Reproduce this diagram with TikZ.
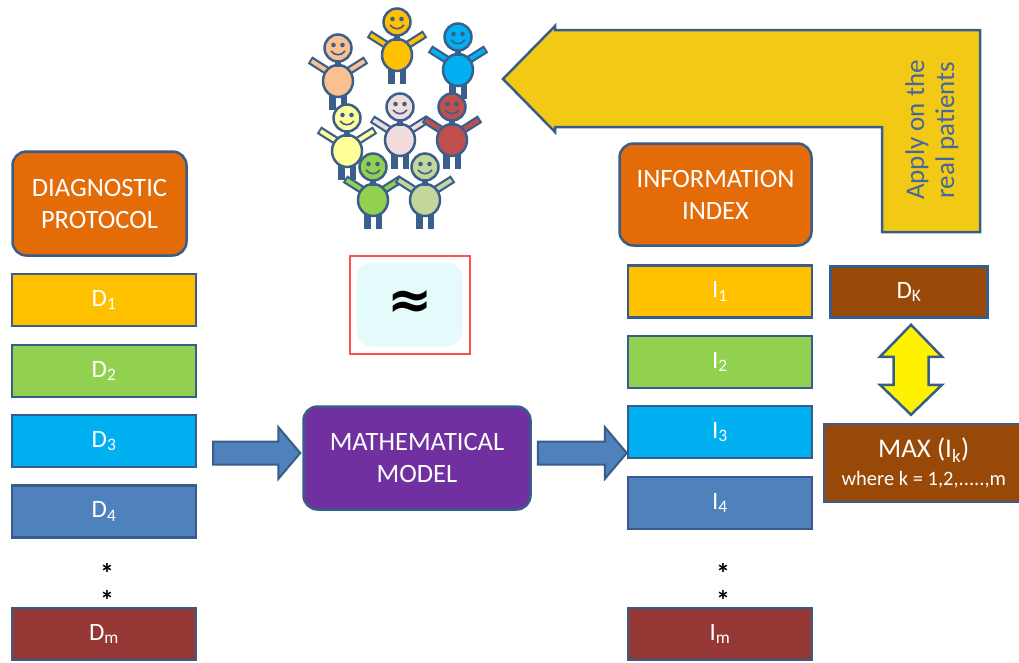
\documentclass[tikz,border=0pt]{standalone}
\usepackage{fontspec}
\setmainfont{Carlito}
\newfontfamily\symfont{DejaVu Sans}
\usetikzlibrary{calc}

\definecolor{bord}{RGB}{56,93,138}
\definecolor{orng}{RGB}{227,108,9}
\definecolor{cyel}{RGB}{255,192,0}
\definecolor{cgrn}{RGB}{146,208,80}
\definecolor{ccyn}{RGB}{0,176,240}
\definecolor{cblu}{RGB}{79,129,189}
\definecolor{cred}{RGB}{149,55,53}
\definecolor{cpur}{RGB}{112,48,160}
\definecolor{cbrn}{RGB}{152,72,7}
\definecolor{gold}{RGB}{242,202,22}
\definecolor{txtblue}{RGB}{68,104,156}
\definecolor{apxred}{RGB}{255,80,80}
\definecolor{apxfill}{RGB}{229,250,250}
\definecolor{pline}{RGB}{59,95,140}
\definecolor{ppeach}{RGB}{250,192,144}
\definecolor{pgold}{RGB}{255,192,0}
\definecolor{pblue}{RGB}{0,176,240}
\definecolor{plyel}{RGB}{255,255,153}
\definecolor{ppink}{RGB}{242,220,219}
\definecolor{pred}{RGB}{192,80,77}
\definecolor{pgreen}{RGB}{146,208,80}
\definecolor{polive}{RGB}{195,214,155}

\tikzset{
  box/.style={draw=bord, line width=2.5pt, text=white, inner sep=0pt,
    font=\fontsize{25}{28}\selectfont},
  dbox/.style={box, minimum width=184pt, minimum height=52pt},
  rbox/.style={box, rounded corners=14pt, align=center,
    font=\fontsize{26.5}{32}\selectfont},
  starmark/.style={inner sep=0pt, font=\bfseries\fontsize{28}{28}\selectfont},
  barrowst/.style={draw=bord, fill=cblu, line width=2pt, line join=miter},
  yarrowst/.style={draw=bord, fill=yellow, line width=2.5pt, line join=miter},
  bigarrowst/.style={draw=bord, fill=gold, line width=2.5pt, line join=miter},
  figline/.style={draw=pline, line width=2.5pt},
}

% one little person: head centre (#1,#2), colour #3
\newcommand\person[3]{%
  \begin{scope}[shift={(#1,#2)}]
    \fill[pline] (-9,40) rectangle (-2.5,62);
    \fill[pline] (2.5,40) rectangle (9,62);
    \draw[pline, line width=8.5pt] (-9,24) -- (-28,12);
    \draw[pline, line width=8.5pt] (9,24) -- (28,12);
    \draw[#3, line width=4pt, shorten >=2pt] (-9,24) -- (-28,12);
    \draw[#3, line width=4pt, shorten >=2pt] (9,24) -- (28,12);
    \filldraw[figline, fill=#3] (0,33) ellipse (15 and 16);
    \fill[pline] (-3,12) rectangle (3,19);
    \filldraw[figline, fill=#3] (0,0) circle (13.5);
    \fill[pline] (-4.5,-3) circle (2.3);
    \fill[pline] (4.5,-3) circle (2.3);
    \draw[pline, line width=1.6pt] (-7,3) .. controls (-3,8) and (3,8) .. (7,3);
  \end{scope}}

% horizontal block arrow from tail #1 to tip #2
\newcommand\hblock[2]{%
  \filldraw[barrowst] ($(#1)+(0,-11.5)$) -- ($(#2)+(-22,-11.5)$)
    -- ($(#2)+(-22,-26)$) -- (#2) -- ($(#2)+(-22,26)$)
    -- ($(#2)+(-22,11.5)$) -- ($(#1)+(0,11.5)$) -- cycle;}

\begin{document}
\begin{tikzpicture}[x=1pt,y=-1pt]
\useasboundingbox (0,0) rectangle (1019,662);

% left column: diagnostic protocol
\node[rbox, fill=orng, minimum width=174pt, minimum height=104pt] (dp)
  at (99.5,203.5) {DIAGNOSTIC\\PROTOCOL};
\node[dbox, fill=cyel] (d1) at (104,300) {D\textsubscript{1}};
\node[dbox, fill=cgrn] (d2) at (104,371) {D\textsubscript{2}};
\node[dbox, fill=ccyn] (d3) at (104,441) {D\textsubscript{3}};
\node[dbox, fill=cblu] (d4) at (104,511.5) {D\textsubscript{4}};
\node[starmark] (ds1) at (107,573) {*};
\node[starmark] (ds2) at (107,600) {*};
\node[dbox, fill=cred] (dm) at (104,634) {D\textsubscript{m}};

% middle: model
\node[rbox, fill=cpur, minimum width=227pt, minimum height=103pt] (mm)
  at (417,458) {MATHEMATICAL\\MODEL};

% right column: information index
\node[rbox, fill=orng, minimum width=192pt, minimum height=102pt] (ii)
  at (715.5,194.5) {INFORMATION\\INDEX};
\node[dbox, fill=cyel] (i1) at (720,291.5) {I\textsubscript{1}};
\node[dbox, fill=cgrn] (i2) at (720,362) {I\textsubscript{2}};
\node[dbox, fill=ccyn] (i3) at (720,432) {I\textsubscript{3}};
\node[dbox, fill=cblu] (i4) at (720,503) {I\textsubscript{4}};
\node[starmark] (is1) at (723,573) {*};
\node[starmark] (is2) at (723,600) {*};
\node[dbox, fill=cred] (im) at (720,634) {I\textsubscript{m}};

% selected test and maximum
\node[box, fill=cbrn, minimum width=157pt, minimum height=51pt] (dk)
  at (909,292) {D\textsubscript{K}};
\node[box, fill=cbrn, minimum width=200pt, minimum height=78pt, anchor=west,
  align=center, font=\fontsize{27}{27}\selectfont] (max) at (822.5,463)
  {MAX (I\textsubscript{k})\\[1pt]{\fontsize{20.5}{20.5}\selectfont where k = 1,2,.....,m}};

% approximation box
\node[fill=apxfill, rounded corners=16pt, minimum width=106pt,
  minimum height=84pt, inner sep=0pt] (apxin) at (409.5,304.5) {};
\draw[apxred, line width=2pt] (349.5,255.5) rectangle (469.5,353.5);
\node[inner sep=0pt, font=\symfont\bfseries\fontsize{54}{54}\selectfont] (apxs)
  at (410,305) {≈};

% flow arrows
\coordinate (tail1) at (213,453);
\coordinate (tip1) at ($(mm.west)+(-2,-5)$);
\hblock{tail1}{tip1}
\coordinate (tail2) at ($(mm.east)+(6,-5)$);
\coordinate (tip2) at (i3.west |- tail2);
\hblock{tail2}{tip2}

% two-headed arrow between D_K and MAX
\coordinate (up) at ($(dk.south)+(2,6)$);
\coordinate (dn) at ($(max.north -| up)+(0,-8)$);
\filldraw[yarrowst] (up) -- ($(up)+(31,32)$) -- ($(up)+(17.5,32)$)
  -- ($(dn)+(17.5,-30)$) -- ($(dn)+(31,-30)$) -- (dn)
  -- ($(dn)+(-31,-30)$) -- ($(dn)+(-17.5,-30)$)
  -- ($(up)+(-17.5,32)$) -- ($(up)+(-31,32)$) -- cycle;

% return arrow to the patients
\filldraw[bigarrowst] (503,79) -- (555,26) -- (555,30) -- (980,30)
  -- (980,232) -- (882,232) -- (882,127) -- (555,127) -- (555,132) -- cycle;
\node[rotate=90, text=txtblue, align=center, inner sep=0pt,
  font=\fontsize{27}{30}\selectfont] (apply) at (932,130)
  {Apply on the\\real patients};

% group of patients
\person{338}{48}{ppeach}
\person{397}{22}{pgold}
\person{458}{37}{pblue}
\person{400}{107}{ppink}
\person{452}{107}{pred}
\person{347}{118}{plyel}
\person{373}{167}{pgreen}
\person{425}{167}{polive}

\end{tikzpicture}
\end{document}
